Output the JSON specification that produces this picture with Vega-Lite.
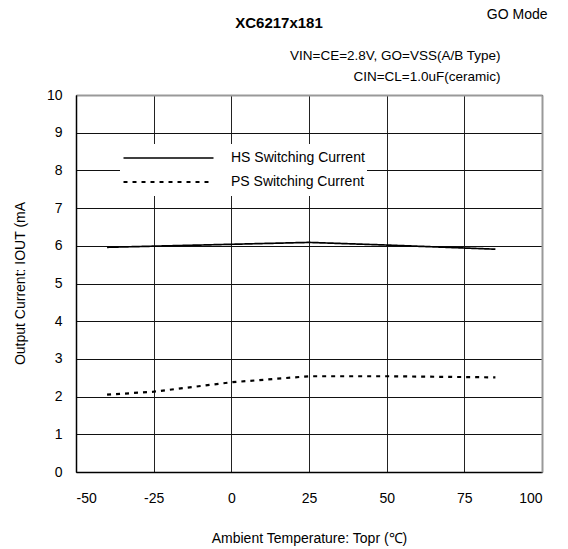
{
  "$schema": "https://vega.github.io/schema/vega-lite/v6.json",
  "autosize": "none",
  "width": 466,
  "height": 377,
  "padding": {"left": 76, "top": 95, "right": 26, "bottom": 77},
  "background": "white",
  "config": {
    "font": "Liberation Sans",
    "view": {"stroke": null},
    "axis": {"labelFont": "Liberation Sans", "titleFont": "Liberation Sans", "labelColor": "black", "titleColor": "black", "titleFontWeight": "normal"}
  },
  "title": {
    "text": "XC6217x181",
    "anchor": "middle",
    "font": "Liberation Sans",
    "fontSize": 15,
    "fontWeight": "bold",
    "color": "black",
    "baseline": "alphabetic",
    "dx": -30,
    "offset": -36
  },
  "data": {
    "values": [
      {"T": -40, "I": 5.96, "s": "HS Switching Current"},
      {"T": -25, "I": 5.99, "s": "HS Switching Current"},
      {"T": 0, "I": 6.04, "s": "HS Switching Current"},
      {"T": 25, "I": 6.09, "s": "HS Switching Current"},
      {"T": 50, "I": 6.02, "s": "HS Switching Current"},
      {"T": 85, "I": 5.91, "s": "HS Switching Current"},
      {"T": -40, "I": 2.05, "s": "PS Switching Current"},
      {"T": -25, "I": 2.13, "s": "PS Switching Current"},
      {"T": 0, "I": 2.38, "s": "PS Switching Current"},
      {"T": 25, "I": 2.54, "s": "PS Switching Current"},
      {"T": 50, "I": 2.54, "s": "PS Switching Current"},
      {"T": 85, "I": 2.51, "s": "PS Switching Current"}
    ]
  },
  "resolve": {"axis": {"x": "independent", "y": "independent"}},
  "layer": [
    {
      "mark": {"type": "line", "color": "black"},
      "encoding": {
        "x": {
          "field": "T", "type": "quantitative",
          "scale": {"domain": [-50, 100], "nice": false, "zero": false},
          "axis": {
            "orient": "bottom",
            "values": [-50, -25, 0, 25, 50, 75, 100],
            "labelExpr": "datum.value + ''",
            "ticks": false,
            "labelPadding": 19,
            "labelFontSize": 14,
            "grid": true, "gridColor": "#222", "gridWidth": 1, "gridOpacity": 1,
            "domainColor": "black", "domainWidth": 1.5,
            "title": "Ambient Temperature: Topr (℃)",
            "titleFontSize": 14,
            "titleX": 233, "titleY": 66, "titleBaseline": "middle", "titleAlign": "center"
          }
        },
        "y": {
          "field": "I", "type": "quantitative",
          "scale": {"domain": [0, 10], "nice": false, "zero": false},
          "axis": {
            "orient": "left",
            "values": [0, 1, 2, 3, 4, 5, 6, 7, 8, 9, 10],
            "ticks": false,
            "labelPadding": 14,
            "labelFontSize": 14,
            "grid": true, "gridColor": "#111", "gridWidth": 1, "gridOpacity": 1,
            "domainColor": "black", "domainWidth": 1.5,
            "title": "Output Current: IOUT (mA",
            "titleFontSize": 14,
            "titleAngle": -90,
            "titleX": -56, "titleY": 188, "titleBaseline": "middle", "titleAlign": "center"
          }
        },
        "strokeWidth": {
          "field": "s", "type": "nominal",
          "scale": {"domain": ["HS Switching Current", "PS Switching Current"], "range": [1.7, 2.2]},
          "legend": null
        },
        "strokeDash": {
          "field": "s", "type": "nominal",
          "scale": {"domain": ["HS Switching Current", "PS Switching Current"], "range": [[1, 0], [4, 5]]},
          "legend": {
            "orient": "none",
            "legendX": 44,
            "legendY": 49,
            "title": null,
            "symbolType": "stroke",
            "symbolSize": 8100,
            "symbolStrokeWidth": 1.5,
            "symbolStrokeColor": "black",
            "labelFont": "Liberation Sans",
            "labelFontSize": 14,
            "labelColor": "black",
            "labelOffset": 16,
            "fillColor": "white",
            "padding": 2,
            "clipHeight": 24,
            "rowPadding": 0,
            "encode": {
              "symbols": {"update": {"strokeDash": {"signal": "datum.value == 'PS Switching Current' ? [1, 1] : [1, 0]"}, "strokeWidth": {"signal": "datum.value == 'PS Switching Current' ? 1 : 1.5"}}}
            }
          }
        }
      }
    },
    {
      "mark": {"type": "line", "strokeOpacity": 0},
      "encoding": {
        "x": {
          "field": "T", "type": "quantitative",
          "axis": {
            "orient": "top",
            "labels": false, "ticks": false, "grid": false,
            "domainColor": "#999", "domainWidth": 2,
            "title": ["VIN=CE=2.8V, GO=VSS(A/B Type)", "CIN=CL=1.0uF(ceramic)"],
            "titleFontSize": 13.5,
            "titleAlign": "right",
            "titleBaseline": "alphabetic",
            "titleLineHeight": 21,
            "titleX": 424, "titleY": -36
          }
        },
        "y": {
          "field": "I", "type": "quantitative",
          "axis": {
            "orient": "right",
            "labels": false, "ticks": false, "grid": false,
            "domainColor": "#999", "domainWidth": 2,
            "title": "GO Mode",
            "titleFontSize": 14,
            "titleAngle": 0,
            "titleAlign": "right",
            "titleBaseline": "alphabetic",
            "titleX": 5, "titleY": -77
          }
        }
      }
    }
  ]
}
